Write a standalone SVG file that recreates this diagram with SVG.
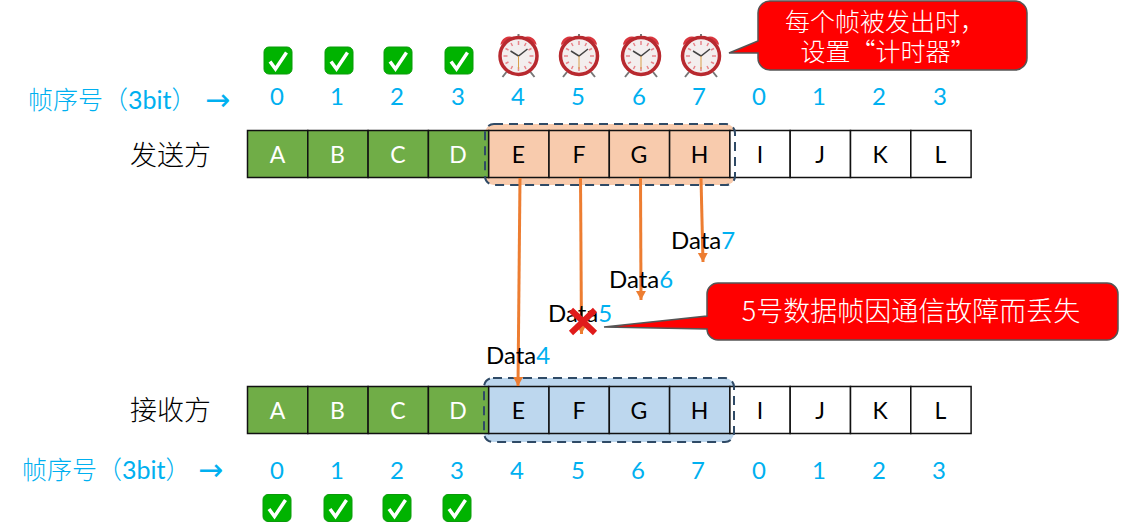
<svg xmlns="http://www.w3.org/2000/svg" xmlns:xlink="http://www.w3.org/1999/xlink" width="1122" height="529" viewBox="0 0 1122 529">
<style>
text{font-family:"Lato","Liberation Sans","Noto Sans CJK SC",sans-serif}
.cjk{font-family:"Noto Sans CJK SC",sans-serif;font-weight:300}
.n{font-size:24px;fill:#00b0f0;text-anchor:middle}
.l{font-size:23px;text-anchor:middle;fill:#000}
.w{fill:#fff}
.c{stroke:#111;stroke-width:1.5}
.g{fill:#70ad47}.o{fill:#f8cbad}.b{fill:#bdd7ee}.e{fill:#fff}
.win{stroke:#2f4a66;stroke-width:2;stroke-dasharray:9 6;fill:none}
.call{fill:#f00;stroke:#555;stroke-width:1.5}
.ct{font-size:25px;fill:#fff;text-anchor:middle}
.seq{font-size:25px;fill:#00b0f0}
.arrow{font-family:"DejaVu Sans",sans-serif;font-size:30px;fill:#00b0f0}
.side{font-size:27px;fill:#000}
.d{font-size:24px;fill:#000}
.d tspan{fill:#00b0f0}
.ar{stroke:#ed7d31;stroke-width:3;fill:none;marker-end:url(#ah)}
</style>
<defs>
<marker id="ah" markerUnits="userSpaceOnUse" markerWidth="10" markerHeight="12" refX="9" refY="5" orient="auto"><path d="M0 0L9 5L0 10Z" fill="#ed7d31"/></marker>
<g id="chk"><rect x="-14" y="-13.500" width="28" height="27" rx="5" fill="#00b300" stroke="#0a9a0a"/><path d="M-8 1L-2.500 8.500L8.500 -8" fill="none" stroke="#fff" stroke-width="3.500"/></g>
<g id="clk">
<path d="M-18-11A9 9 0 0 1-5-18.500ZM18-11A9 9 0 0 0 5-18.500Z" fill="#d9363e"/>
<path d="M-12 16L-16 21M12 16L16 21M0-19V-22" stroke="#777" stroke-width="2" fill="none"/>
<circle r="18.500" fill="#f3eeee" stroke="#b8292f" stroke-width="3.500"/>
<path d="M0-15V-11M0 15V11M-15 0H-11M15 0H11M-13-7.500L-10-6M13-7.500L10-6M-13 7.500L-10 6M13 7.500L10 6M-7.500-13L-6-10M7.500-13L6-10M-7.500 13L-6 10M7.500 13L6 10" stroke="#e8848a" stroke-width="1.500"/>
<path d="M-8-5L0 0L9-7" stroke="#444" stroke-width="1.500" fill="none"/><path d="M0 0V13" stroke="#d8a04a"/>
</g>
</defs>

<g id="sender-window-fill"><rect class="o" x="485" y="124" width="250" height="61" rx="9"/></g>
<g id="receiver-window-fill"><rect class="b" x="484" y="378" width="250" height="64" rx="9"/></g>

<g id="sender-label"><text class="side cjk" x="130" y="165">发送方</text></g>
<g id="receiver-label"><text class="side cjk" x="130" y="420">接收方</text></g>

<g id="sender">
<rect class="c g" x="247.500" y="130.500" width="60.300" height="47"/><text class="l w" x="277.500" y="163">A</text>
<rect class="c g" x="307.800" y="130.500" width="60.300" height="47"/><text class="l w" x="337.500" y="163">B</text>
<rect class="c g" x="368.100" y="130.500" width="60.300" height="47"/><text class="l w" x="398" y="163">C</text>
<rect class="c g" x="428.400" y="130.500" width="60.300" height="47"/><text class="l w" x="458" y="163">D</text>
<rect class="c o" x="488.700" y="130.500" width="60.300" height="47"/><text class="l" x="518.500" y="163">E</text>
<rect class="c o" x="549" y="130.500" width="60.300" height="47"/><text class="l" x="579" y="163">F</text>
<rect class="c o" x="609.300" y="130.500" width="60.300" height="47"/><text class="l" x="639" y="163">G</text>
<rect class="c o" x="669.600" y="130.500" width="60.300" height="47"/><text class="l" x="699.500" y="163">H</text>
<rect class="c e" x="729.900" y="130.500" width="60.300" height="47"/><text class="l" x="760" y="163">I</text>
<rect class="c e" x="790.200" y="130.500" width="60.300" height="47"/><text class="l" x="820" y="163">J</text>
<rect class="c e" x="850.500" y="130.500" width="60.300" height="47"/><text class="l" x="880" y="163">K</text>
<rect class="c e" x="910.800" y="130.500" width="60.300" height="47"/><text class="l" x="940.500" y="163">L</text>
</g>

<g id="receiver">
<rect class="c g" x="247.500" y="386.500" width="60.300" height="47"/><text class="l w" x="277.500" y="419">A</text>
<rect class="c g" x="307.800" y="386.500" width="60.300" height="47"/><text class="l w" x="337.500" y="419">B</text>
<rect class="c g" x="368.100" y="386.500" width="60.300" height="47"/><text class="l w" x="398" y="419">C</text>
<rect class="c g" x="428.400" y="386.500" width="60.300" height="47"/><text class="l w" x="458" y="419">D</text>
<rect class="c b" x="488.700" y="386.500" width="60.300" height="47"/><text class="l" x="518.500" y="419">E</text>
<rect class="c b" x="549" y="386.500" width="60.300" height="47"/><text class="l" x="579" y="419">F</text>
<rect class="c b" x="609.300" y="386.500" width="60.300" height="47"/><text class="l" x="639" y="419">G</text>
<rect class="c b" x="669.600" y="386.500" width="60.300" height="47"/><text class="l" x="699.500" y="419">H</text>
<rect class="c e" x="729.900" y="386.500" width="60.300" height="47"/><text class="l" x="760" y="419">I</text>
<rect class="c e" x="790.200" y="386.500" width="60.300" height="47"/><text class="l" x="820" y="419">J</text>
<rect class="c e" x="850.500" y="386.500" width="60.300" height="47"/><text class="l" x="880" y="419">K</text>
<rect class="c e" x="910.800" y="386.500" width="60.300" height="47"/><text class="l" x="940.500" y="419">L</text>
</g>

<g id="sender-window"><rect class="win" x="485" y="124" width="250" height="61" rx="9"/></g>
<g id="receiver-window"><rect class="win" x="484" y="378" width="250" height="64" rx="9"/></g>

<g id="connectors">
<path class="ar" d="M520 178L518 386"/>
<path class="ar" d="M580.500 178L581.500 334"/>
<path class="ar" d="M640.500 178L641 300"/>
<path class="ar" d="M701 178L703 262"/>
</g>

<g id="sender-seq">
<text class="seq" x="28" y="109"><tspan class="cjk">帧序号（</tspan>3bit<tspan class="cjk">）</tspan></text>
<text class="arrow" x="205" y="110">→</text>
<text class="n" x="277" y="105">0</text><text class="n" x="337" y="105">1</text><text class="n" x="397" y="105">2</text><text class="n" x="458" y="105">3</text><text class="n" x="518" y="105">4</text><text class="n" x="578" y="105">5</text><text class="n" x="639" y="105">6</text><text class="n" x="699" y="105">7</text><text class="n" x="759" y="105">0</text><text class="n" x="819" y="105">1</text><text class="n" x="879" y="105">2</text><text class="n" x="940" y="105">3</text>
</g>
<g id="receiver-seq">
<text class="seq" x="22" y="479"><tspan class="cjk">帧序号（</tspan>3bit<tspan class="cjk">）</tspan></text>
<text class="arrow" x="198" y="480">→</text>
<text class="n" x="277" y="479">0</text><text class="n" x="337" y="479">1</text><text class="n" x="397" y="479">2</text><text class="n" x="457" y="479">3</text><text class="n" x="517" y="479">4</text><text class="n" x="578" y="479">5</text><text class="n" x="638" y="479">6</text><text class="n" x="698" y="479">7</text><text class="n" x="759" y="479">0</text><text class="n" x="819" y="479">1</text><text class="n" x="879" y="479">2</text><text class="n" x="939" y="479">3</text>
</g>

<g id="sender-acks">
<use xlink:href="#chk" href="#chk" x="278" y="60.500"/><use xlink:href="#chk" href="#chk" x="339" y="60.500"/><use xlink:href="#chk" href="#chk" x="398" y="60.500"/><use xlink:href="#chk" href="#chk" x="459" y="60.500"/>
</g>
<g id="receiver-acks">
<use xlink:href="#chk" href="#chk" x="277" y="508"/><use xlink:href="#chk" href="#chk" x="338" y="508"/><use xlink:href="#chk" href="#chk" x="397" y="508"/><use xlink:href="#chk" href="#chk" x="457" y="508"/>
</g>
<g id="timers">
<use xlink:href="#clk" href="#clk" x="518.500" y="56"/><use xlink:href="#clk" href="#clk" x="579" y="56"/><use xlink:href="#clk" href="#clk" x="641" y="56"/><use xlink:href="#clk" href="#clk" x="701" y="56"/>
</g>

<g id="timer-callout">
<path class="call" d="M770 1H1015A12 12 0 0 1 1027 13V58A12 12 0 0 1 1015 70H770A12 12 0 0 1 758 58V53L729 53L758 41V13A12 12 0 0 1 770 1Z"/>
<text class="ct cjk"><tspan x="885" y="31">每个帧被发出时，</tspan><tspan x="888" y="61">设置“计时器”</tspan></text>
</g>
<g id="loss-callout">
<path class="call" d="M718 283H1107A11 11 0 0 1 1118 294V329A11 11 0 0 1 1107 340H718A11 11 0 0 1 707 329V329L604 327L707 316V294A11 11 0 0 1 718 283Z"/>
<text class="ct cjk" x="911" y="321" style="font-size:27px">5号数据帧因通信故障而丢失</text>
</g>

<g id="data-labels">
<text class="d" x="671" y="249">Data<tspan>7</tspan></text>
<text class="d" x="609" y="288">Data<tspan>6</tspan></text>
<text class="d" x="548" y="322">Data<tspan>5</tspan></text>
<text class="d" x="486" y="364">Data<tspan>4</tspan></text>
</g>
<g id="lost-mark"><path d="M571 310L595 333M595 310L571 333" stroke="#e01b1b" stroke-width="6" fill="none"/></g>
</svg>
